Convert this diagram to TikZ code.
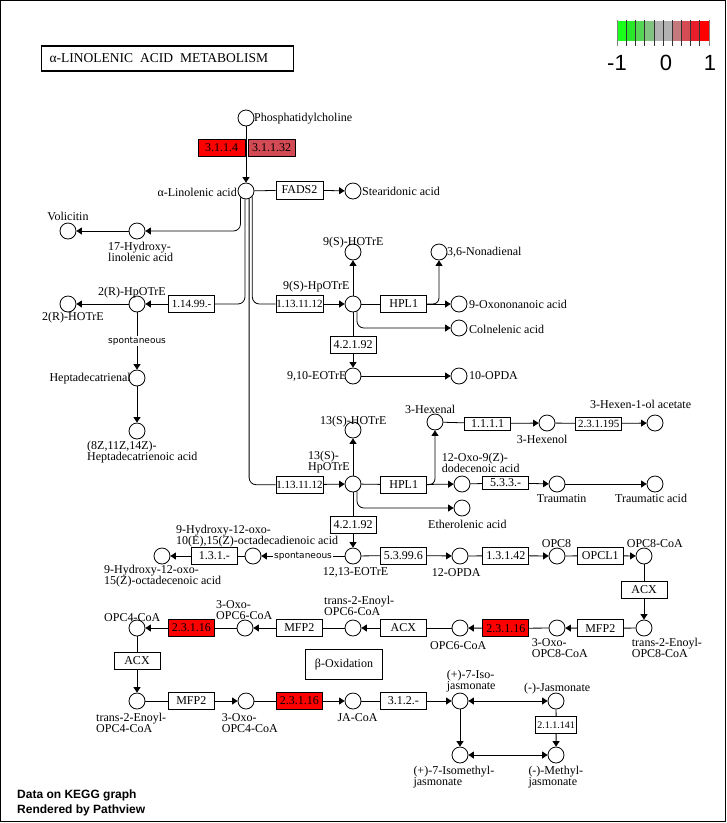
\documentclass[tikz,border=0pt]{standalone}
\usepackage{fontspec}
\setmainfont{Liberation Serif}
\newfontfamily\sansfont{Liberation Sans}
\newfontfamily\spfont{DejaVu Sans}
\usetikzlibrary{arrows.meta,calc}
\definecolor{lg1}{RGB}{25,255,25}
\definecolor{lg2}{RGB}{40,232,40}
\definecolor{lg3}{RGB}{85,214,85}
\definecolor{lg4}{RGB}{130,195,130}
\definecolor{lg5}{RGB}{178,178,178}
\definecolor{lg6}{RGB}{178,178,178}
\definecolor{lg7}{RGB}{196,122,124}
\definecolor{lg8}{RGB}{212,76,84}
\definecolor{lg9}{RGB}{232,30,45}
\definecolor{lg10}{RGB}{255,0,0}
\definecolor{upA}{RGB}{255,0,0}
\definecolor{upB}{RGB}{210,74,84}
\begin{document}
\begin{tikzpicture}[x=1pt,y=-1pt,
  cpd/.style={circle,draw,line width=0.8pt,minimum size=16pt,inner sep=0pt,fill=white},
  enz/.style={rectangle,draw,line width=0.8pt,minimum width=46pt,minimum height=17pt,inner sep=0pt,font=\fontsize{12}{12}\selectfont,fill=white},
  enzs/.style={enz,minimum height=13pt},
  smallt/.style={font=\fontsize{11}{11}\selectfont},
  lbl/.style={inner sep=0pt,font=\fontsize{12}{11}\selectfont,align=left},
  con/.style={line width=0.8pt},
  arr/.style={con,-{Triangle[length=5.5pt,width=7pt]}},
  darr/.style={con,{Triangle[length=5.5pt,width=7pt]}-{Triangle[length=5.5pt,width=7pt]}},
  spont/.style={inner sep=1pt,fill=white,font=\spfont\fontsize{9}{9}\selectfont},
]
\useasboundingbox (0,0) rectangle (727,823);
\draw[line width=1pt] (0.5,0.5) rectangle (725,821.5);

% legend
\foreach \c [count=\i from 0] in {lg1,lg2,lg3,lg4,lg5,lg6,lg7,lg8,lg9,lg10}
  \fill[\c] (617.3+9.17*\i,20.7) rectangle ++(9.17,20);
\foreach \i in {1,...,9}
  \draw[line width=0.8pt,black!80] (617.3+9.17*\i,20) -- ++(0,25.7);
\draw[line width=0.8pt,gray] (617.3,20) -- ++(0,25.7);
\draw[line width=0.8pt,gray] (709,20) -- ++(0,25.7);
\node[inner sep=0pt,font=\sansfont\fontsize{22}{22}\selectfont] (lgm1) at (617,63) {-1};
\node[inner sep=0pt,font=\sansfont\fontsize{22}{22}\selectfont] (lg0) at (666,63) {0};
\node[inner sep=0pt,font=\sansfont\fontsize{22}{22}\selectfont] (lgp1) at (710,63) {1};

% title
\node[draw,line width=1.6pt,minimum height=25pt,text width=236pt,inner xsep=8pt,inner ysep=0pt,align=left,anchor=west,font=\fontsize{13.5}{13.5}\selectfont] (title) at (40.7,58.4) {α-LINOLENIC\hspace{7pt}ACID\hspace{7pt}METABOLISM};

% compounds
\node[cpd] (pc) at (246,118) {};
\node[cpd] (ala) at (246,191) {};
\node[cpd] (stear) at (353,191) {};
\node[cpd] (volic) at (68,231) {};
\node[cpd] (hydlin) at (137,231) {};
\node[cpd] (hotre2) at (68,304) {};
\node[cpd] (hpotre2) at (137,304) {};
\node[cpd] (heptal) at (137,378) {};
\node[cpd] (heptoic) at (137,431) {};
\node[cpd] (hotre9) at (353,252) {};
\node[cpd] (hpotre9) at (353,304) {};
\node[cpd] (nonad) at (439,252) {};
\node[cpd] (oxonon) at (459,304) {};
\node[cpd] (colnel) at (459,328) {};
\node[cpd] (eotre910) at (353,376) {};
\node[cpd] (opda10) at (459,376) {};
\node[cpd] (hotre13) at (353,430) {};
\node[cpd] (hpotre13) at (353,484) {};
\node[cpd] (hexenal) at (435,422) {};
\node[cpd] (hexenol) at (547,423) {};
\node[cpd] (hexacet) at (655,423) {};
\node[cpd] (oxododec) at (462,484) {};
\node[cpd] (traumatin) at (557,484) {};
\node[cpd] (traumatic) at (655,484) {};
\node[cpd] (ether) at (462,508) {};
\node[cpd] (eotre1213) at (353,556) {};
\node[cpd] (hyddien) at (253,556) {};
\node[cpd] (hydene) at (162,556) {};
\node[cpd] (opda12) at (460,556) {};
\node[cpd] (opc8) at (557,556) {};
\node[cpd] (opc8coa) at (644,556) {};
\node[cpd] (t2opc8) at (644,628) {};
\node[cpd] (oxoopc8) at (557,628) {};
\node[cpd] (opc6coa) at (460,628) {};
\node[cpd] (t2opc6) at (353,628) {};
\node[cpd] (oxoopc6) at (245,628) {};
\node[cpd] (opc4coa) at (137,628) {};
\node[cpd] (t2opc4) at (137,701) {};
\node[cpd] (oxoopc4) at (246,701) {};
\node[cpd] (jacoa) at (353,701) {};
\node[cpd] (isoja) at (460,701) {};
\node[cpd] (ja) at (556,701) {};
\node[cpd] (isomeja) at (460,755) {};
\node[cpd] (meja) at (556,755) {};

% enzymes
\node[enz,fill=upA,minimum width=47pt] (e3114) at (221.5,147.5) {3.1.1.4};
\node[enz,fill=upB,minimum width=47pt] (e31132) at (271.5,147.5) {3.1.1.32};
\node[enz,minimum width=47pt,minimum height=18pt] (fads2) at (299.5,190) {FADS2};
\node[enz,smallt] (e11499) at (191.5,304) {1.14.99.-};
\node[enz,smallt,minimum width=47pt] (e1311a) at (299.5,304) {1.13.11.12};
\node[enz] (hpl1a) at (403.7,304) {HPL1};
\node[enz] (e42192a) at (353,344.7) {4.2.1.92};
\node[enz,smallt,minimum width=47pt] (e1311b) at (299.5,484.7) {1.13.11.12};
\node[enz] (hpl1b) at (403.7,484.7) {HPL1};
\node[enz] (e42192b) at (353,525) {4.2.1.92};
\node[enzs] (e1111) at (487.5,423.5) {1.1.1.1};
\node[enzs,smallt] (e231195) at (598.7,423.5) {2.3.1.195};
\node[enzs] (e533) at (505.7,483) {5.3.3.-};
\node[enz] (e131) at (214.3,556) {1.3.1.-};
\node[enz] (e53996) at (403.3,555.5) {5.3.99.6};
\node[enz] (e13142) at (505.8,555.7) {1.3.1.42};
\node[enz] (opcl1) at (600.3,555.7) {OPCL1};
\node[enz] (acxR) at (644,590) {ACX};
\node[enz] (mfp2R) at (600.3,628.3) {MFP2};
\node[enz,fill=upA] (e23116a) at (505.8,628.3) {2.3.1.16};
\node[enz] (acxM) at (403.3,628) {ACX};
\node[enz] (mfp2M) at (299.3,628) {MFP2};
\node[enz,fill=upA] (e23116b) at (191.3,628) {2.3.1.16};
\node[enz] (acxL) at (137,661) {ACX};
\node[enz] (mfp2L) at (191.3,701) {MFP2};
\node[enz,fill=upA] (e23116c) at (299.3,701) {2.3.1.16};
\node[enz] (e312) at (403.3,701) {3.1.2.-};
\node[enz,smallt,minimum width=41pt,font=\fontsize{10}{10}\selectfont] (e211141) at (556.2,725.3) {2.1.1.141};
\node[draw,line width=0.8pt,minimum width=76.6pt,minimum height=30pt,inner sep=0pt,font=\fontsize{12}{12}\selectfont] (beta) at (344,664.3) {β-Oxidation};

% labels
\node[lbl,anchor=west] (l-pc) at (254,119) {Phosphatidylcholine};
\node[lbl,anchor=east] (l-ala) at (237,192) {α-Linolenic acid};
\node[lbl,anchor=west] (l-stear) at (362,191) {Stearidonic acid};
\node[lbl] (l-volic) at (68,216) {Volicitin};
\node[lbl,anchor=west] (l-hydlin) at (108,252) {17-Hydroxy-\\linolenic acid};
\node[lbl,anchor=west] (l-hpotre2) at (98,293) {2(R)-HpOTrE};
\node[lbl,anchor=west] (l-hotre2) at (42,318) {2(R)-HOTrE};
\node[lbl,anchor=east] (l-heptal) at (131,379) {Heptadecatrienal};
\node[lbl,anchor=west] (l-heptoic) at (87,452) {(8Z,11Z,14Z)-\\Heptadecatrienoic acid};
\node[lbl,anchor=west] (l-hotre9) at (323,243) {9(S)-HOTrE};
\node[lbl,anchor=west] (l-hpotre9) at (283,287) {9(S)-HpOTrE};
\node[lbl,anchor=west] (l-nonad) at (447,252) {3,6-Nonadienal};
\node[lbl,anchor=west] (l-oxonon) at (469,304) {9-Oxononanoic acid};
\node[lbl,anchor=west] (l-colnel) at (469,329) {Colnelenic acid};
\node[lbl,anchor=west] (l-eotre910) at (287,376) {9,10-EOTrE};
\node[lbl,anchor=west] (l-opda10) at (469,376) {10-OPDA};
\node[lbl,anchor=west] (l-hotre13) at (320,422) {13(S)-HOTrE};
\node[lbl,anchor=west] (l-hpotre13) at (308,462) {13(S)-\\HpOTrE};
\node[lbl,anchor=west] (l-hexenal) at (405,409) {3-Hexenal};
\node[lbl,anchor=west] (l-hexenol) at (516.7,439) {3-Hexenol};
\node[lbl,anchor=west] (l-hexacet) at (590,404) {3-Hexen-1-ol acetate};
\node[lbl,anchor=west] (l-oxododec) at (441.7,463.3) {12-Oxo-9(Z)-\\dodecenoic acid};
\node[lbl,anchor=west] (l-traumatin) at (536.7,498.5) {Traumatin};
\node[lbl,anchor=west] (l-traumatic) at (615,498.5) {Traumatic acid};
\node[lbl,anchor=west] (l-ether) at (428,524) {Etherolenic acid};
\node[lbl,anchor=west] (l-hyddien) at (176,535.7) {9-Hydroxy-12-oxo-\\10(E),15(Z)-octadecadienoic acid};
\node[lbl,anchor=west] (l-hydene) at (104,575.7) {9-Hydroxy-12-oxo-\\15(Z)-octadecenoic acid};
\node[lbl,anchor=west] (l-eotre1213) at (322.7,572.7) {12,13-EOTrE};
\node[lbl,anchor=west] (l-opda12) at (431.7,572.7) {12-OPDA};
\node[lbl,anchor=west] (l-opc8) at (541.7,544) {OPC8};
\node[lbl,anchor=west] (l-opc8coa) at (626.7,544) {OPC8-CoA};
\node[lbl,anchor=west] (l-t2opc8) at (631.7,647.7) {trans-2-Enoyl-\\OPC8-CoA};
\node[lbl,anchor=west] (l-oxoopc8) at (531.7,647.7) {3-Oxo-\\OPC8-CoA};
\node[lbl,anchor=west] (l-opc6coa) at (430,645.7) {OPC6-CoA};
\node[lbl,anchor=west] (l-t2opc6) at (324,606.3) {trans-2-Enoyl-\\OPC6-CoA};
\node[lbl,anchor=west] (l-oxoopc6) at (216,610.3) {3-Oxo-\\OPC6-CoA};
\node[lbl,anchor=west] (l-opc4coa) at (104,617.3) {OPC4-CoA};
\node[lbl,anchor=west] (l-t2opc4) at (96,723) {trans-2-Enoyl-\\OPC4-CoA};
\node[lbl,anchor=west] (l-oxoopc4) at (221.7,723) {3-Oxo-\\OPC4-CoA};
\node[lbl,anchor=west] (l-jacoa) at (337.3,717.3) {JA-CoA};
\node[lbl,anchor=west] (l-isoja) at (446.7,681) {(+)-7-Iso-\\jasmonate};
\node[lbl,anchor=west] (l-ja) at (524,688.3) {(-)-Jasmonate};
\node[lbl,anchor=west] (l-isomeja) at (413.3,777) {(+)-7-Isomethyl-\\jasmonate};
\node[lbl,anchor=west] (l-meja) at (528.3,777) {(-)-Methyl-\\jasmonate};
\node[anchor=west,inner sep=0pt,align=left,font=\sansfont\bfseries\fontsize{12}{15}\selectfont] (credit) at (17,803) {Data on KEGG graph\\Rendered by Pathview};

% connectors
\draw[arr] (pc) -- (ala);
\draw[con] (ala) -- (fads2);
\draw[arr] (fads2) -- (stear);
\draw[arr,rounded corners=7pt] (ala.-131.5) |- (hydlin);
\draw[arr] (hydlin) -- (volic);
\draw[con,rounded corners=7pt] (ala.-97) |- (e11499);
\draw[arr] (e11499) -- (hpotre2);
\draw[arr] (hpotre2) -- (hotre2);
\draw[arr] (hpotre2) -- node[spont] (sp1) {spontaneous} (heptal);
\draw[arr] (heptal) -- (heptoic);
\draw[con,rounded corners=7pt] (ala.-41.4) |- (e1311a);
\draw[arr] (e1311a) -- (hpotre9);
\draw[arr] (hpotre9) -- (hotre9);
\draw[con] (hpotre9) -- (hpl1a);
\draw[arr] (hpl1a) -- (oxonon);
\draw[arr,rounded corners=6pt] (hpl1a.east) -| (nonad);
\draw[arr,rounded corners=7pt] (hpotre9.-62) |- (colnel);
\draw[con] (hpotre9) -- (e42192a);
\draw[arr] (e42192a) -- (eotre910);
\draw[arr] (eotre910) -- (opda10);
\draw[con,rounded corners=7pt] (ala.-68) |- (e1311b);
\draw[arr] (e1311b) -- (hpotre13);
\draw[arr] (hpotre13) -- (hotre13);
\draw[con] (hpotre13) -- (hpl1b);
\draw[arr] (hpl1b) -- (oxododec);
\draw[arr,rounded corners=6pt] (hpl1b.east) -| (hexenal);
\draw[arr,rounded corners=7pt] (hpotre13.-62) |- (ether);
\draw[con] (hpotre13) -- (e42192b);
\draw[arr] (e42192b) -- (eotre1213);
\draw[con] (hexenal) -- (e1111);
\draw[arr] (e1111) -- (hexenol);
\draw[con] (hexenol) -- (e231195);
\draw[arr] (e231195) -- (hexacet);
\draw[con] (oxododec) -- (e533);
\draw[arr] (e533) -- (traumatin);
\draw[arr] (traumatin) -- (traumatic);
\draw[arr] (eotre1213) -- node[spont] (sp2) {spontaneous} (hyddien);
\draw[con] (hyddien) -- (e131);
\draw[arr] (e131) -- (hydene);
\draw[con] (eotre1213) -- (e53996);
\draw[arr] (e53996) -- (opda12);
\draw[con] (opda12) -- (e13142);
\draw[arr] (e13142) -- (opc8);
\draw[con] (opc8) -- (opcl1);
\draw[arr] (opcl1) -- (opc8coa);
\draw[con] (opc8coa) -- (acxR);
\draw[arr] (acxR) -- (t2opc8);
\draw[con] (t2opc8) -- (mfp2R);
\draw[arr] (mfp2R) -- (oxoopc8);
\draw[con] (oxoopc8) -- (e23116a);
\draw[arr] (e23116a) -- (opc6coa);
\draw[con] (opc6coa) -- (acxM);
\draw[arr] (acxM) -- (t2opc6);
\draw[con] (t2opc6) -- (mfp2M);
\draw[arr] (mfp2M) -- (oxoopc6);
\draw[con] (oxoopc6) -- (e23116b);
\draw[arr] (e23116b) -- (opc4coa);
\draw[con] (opc4coa) -- (acxL);
\draw[arr] (acxL) -- (t2opc4);
\draw[con] (t2opc4) -- (mfp2L);
\draw[arr] (mfp2L) -- (oxoopc4);
\draw[con] (oxoopc4) -- (e23116c);
\draw[arr] (e23116c) -- (jacoa);
\draw[con] (jacoa) -- (e312);
\draw[arr] (e312) -- (isoja);
\draw[darr] (isoja) -- (ja);
\draw[arr] (isoja) -- (isomeja);
\draw[con] (ja) -- (e211141);
\draw[arr] (e211141) -- (meja);
\draw[darr] (isomeja) -- (meja);
\end{tikzpicture}
\end{document}
